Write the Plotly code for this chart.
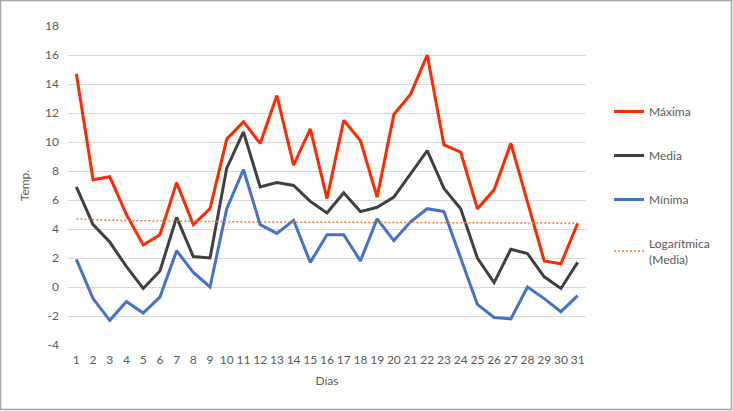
import numpy as np
import plotly.graph_objects as go

dias = list(range(1, 32))
maxima = [14.7, 7.4, 7.6, 5.0, 2.9, 3.6, 7.2, 4.3, 5.4, 10.2, 11.4, 9.9, 13.2, 8.4, 10.9, 6.1,
          11.5, 10.1, 6.2, 11.9, 13.3, 16.0, 9.8, 9.3, 5.4, 6.7, 9.9, 5.9, 1.8, 1.6, 4.4]
media = [6.9, 4.3, 3.1, 1.4, -0.1, 1.1, 4.8, 2.1, 2.0, 8.2, 10.7, 6.9, 7.2, 7.0, 5.9, 5.1,
         6.5, 5.2, 5.5, 6.2, 7.8, 9.4, 6.8, 5.4, 2.0, 0.3, 2.6, 2.3, 0.7, -0.1, 1.7]
minima = [1.9, -0.8, -2.3, -1.0, -1.8, -0.7, 2.5, 1.0, 0.0, 5.4, 8.1, 4.3, 3.7, 4.6, 1.7, 3.6,
          3.6, 1.8, 4.7, 3.2, 4.5, 5.4, 5.2, 2.0, -1.2, -2.1, -2.2, 0.0, -0.8, -1.7, -0.6]
y_ticks = list(range(-4, 19, 2))

# Logarithmic trendline of "Media" (least squares on ln(x))
lx = np.log(np.array(dias, dtype=float))
b, a = np.polyfit(lx, np.array(media), 1)
trend = (a + b * lx).tolist()

txt = "#595959"
font = "Lato, Open Sans, sans-serif"

W, H = 733, 411
ML, MR, MT, MB = 68, 147, 26, 66
PW, PH = W - ML - MR, H - MT - MB

fig = go.Figure()
fig.add_trace(go.Scatter(x=dias, y=maxima, name="Máxima", mode="lines", legendgroup="a",
                         line=dict(color="#FF2A00", width=3)))
fig.add_trace(go.Scatter(x=dias, y=media, name="Media", mode="lines", legendgroup="b",
                         line=dict(color="#404040", width=3)))
fig.add_trace(go.Scatter(x=dias, y=minima, name="Mínima", mode="lines", legendgroup="c",
                         line=dict(color="#4472C4", width=3)))
fig.add_trace(go.Scatter(x=dias, y=trend, name="Logarítmica<br>(Media)", mode="lines", legendgroup="d",
                         line=dict(color="#ED7D31", width=1.5, dash="2px,2px")))

fig.update_layout(
    width=W, height=H,
    margin=dict(l=ML, r=MR, t=MT, b=MB),
    paper_bgcolor="white", plot_bgcolor="white",
    font=dict(family=font, size=12, color=txt),
    xaxis=dict(
        range=[0.5, 31.5], tickmode="array", tickvals=dias, ticktext=[str(d) for d in dias],
        showgrid=False, zeroline=False, showline=False, ticks="",
        tickfont=dict(size=12, color=txt), ticklabelstandoff=6,
        title=dict(text="Días", font=dict(size=12, color=txt), standoff=10),
    ),
    yaxis=dict(
        range=[-4, 18], tickmode="array", tickvals=y_ticks, ticktext=[str(v) for v in y_ticks],
        showgrid=True, gridcolor="#D9D9D9", gridwidth=1, zeroline=False, showline=False, ticks="",
        tickfont=dict(size=12, color=txt), ticklabelstandoff=8,
        title=dict(text="Temp.", font=dict(size=12, color=txt), standoff=12),
    ),
    legend=dict(x=(609 - ML) / PW, y=1 - (97 - MT) / PH, xanchor="left", yanchor="top",
                tracegroupgap=25, font=dict(size=12, color=txt), bgcolor="rgba(0,0,0,0)"),
    shapes=[dict(type="rect", xref="paper", yref="paper",
                 x0=(0.5 - ML) / PW, x1=(W - 1.5 - ML) / PW,
                 y0=-(H - 1.5 - MT - PH) / PH, y1=1 + (MT - 0.5) / PH,
                 line=dict(color="#A6A6A6", width=1.5), fillcolor="rgba(0,0,0,0)", layer="below")],
)

fig.write_html("out.html", config={"displayModeBar": False},
               post_script="document.body.style.margin='0';document.body.style.padding='0';")
